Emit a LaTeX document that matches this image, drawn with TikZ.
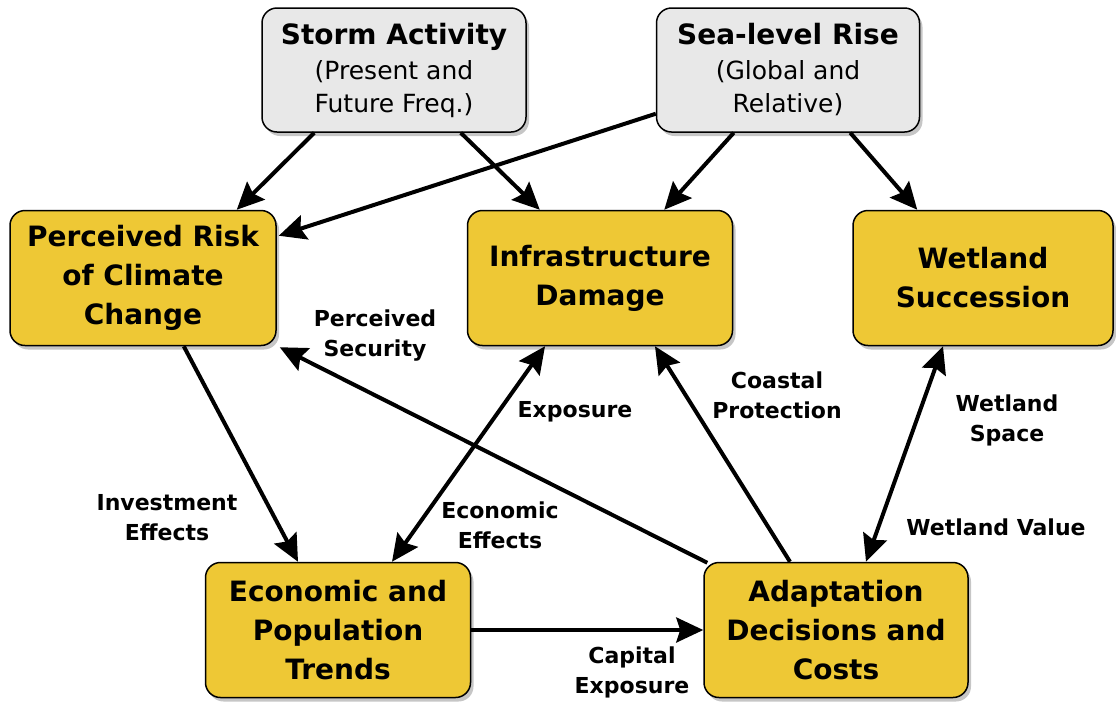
\documentclass[tikz,border=0pt]{standalone}
\usepackage{fontspec}
\setmainfont{DejaVu Sans}
\usetikzlibrary{arrows.meta,shadows}
\definecolor{boxyellow}{HTML}{EEC835}
\definecolor{boxgray}{HTML}{E8E8E8}

\begin{document}
\begin{tikzpicture}[x=1pt,y=-1pt,
	factor/.style={draw=black, line width=1.5pt, rounded corners=15pt, fill=boxyellow,
		align=center, font=\bfseries\fontsize{28}{39}\selectfont, inner sep=0pt,
		drop shadow={shadow xshift=3pt, shadow yshift=-4pt, opacity=0.45}},
	driver/.style={factor, fill=boxgray, font=\fontsize{25}{33}\selectfont},
	link/.style={line width=4pt, -{Stealth[length=27pt,width=25pt,inset=4pt]}},
	twolink/.style={line width=4pt, {Stealth[length=27pt,width=25pt,inset=4pt]}-{Stealth[length=27pt,width=25pt,inset=4pt]}},
	lbl/.style={font=\bfseries\fontsize{22}{30}\selectfont, align=center}]
	\useasboundingbox (0,0) rectangle (1116,702);
	% drivers
	\node[driver, minimum width=264pt, minimum height=124pt] (storm) at (394,70)
		{{\bfseries\fontsize{28}{38}\selectfont Storm Activity}\\[2pt](Present and\\Future Freq.)};
	\node[driver, minimum width=263pt, minimum height=124pt] (sea) at (788,70)
		{{\bfseries\fontsize{28}{38}\selectfont Sea-level Rise}\\[2pt](Global and\\Relative)};
	% factors
	\node[factor, minimum width=266pt, minimum height=135pt] (risk) at (143,278)
		{Perceived Risk\\of Climate\\Change};
	\node[factor, minimum width=265pt, minimum height=135pt] (infra) at (600,278)
		{Infrastructure\\Damage};
	\node[factor, minimum width=260pt, minimum height=135pt] (wet) at (983,278)
		{Wetland\\Succession};
	\node[factor, minimum width=265pt, minimum height=135pt] (econ) at (338,630)
		{Economic and\\Population\\Trends};
	\node[factor, minimum width=264pt, minimum height=135pt] (adapt) at (836,630)
		{Adaptation\\Decisions and\\Costs};
	% links
	\draw[link] ([xshift=53pt]storm.south west) -- ([xshift=-40pt]risk.north east);
	\draw[link] ([xshift=-66pt]storm.south east) -- ([xshift=73pt]infra.north west);
	\draw[link] ([yshift=19pt]sea.south west) -- ([xshift=2pt,yshift=-26pt]risk.north east);
	\draw[link] ([xshift=78pt]sea.south west) -- ([xshift=-69pt]infra.north east);
	\draw[link] ([xshift=-70pt]sea.south east) -- ([xshift=65pt]wet.north west);
	\draw[link] ([xshift=-93pt]risk.south east) -- ([xshift=-40pt]econ.north);
	\draw[link] ([xshift=4pt,yshift=-1pt]adapt.north west) -- ([xshift=3pt,yshift=-1pt]risk.south east);
	\draw[twolink] ([xshift=54pt]econ.north) -- ([xshift=-55pt]infra.south);
	\draw[link] ([xshift=-46pt]adapt.north) -- ([xshift=55pt]infra.south);
	\draw[twolink] ([xshift=30pt]adapt.north) -- ([xshift=-40pt]wet.south);
	\draw[link] (econ.east) -- (adapt.west);
	% labels
	\node[lbl] (l1) at (167,518) {Investment\\Effects};
	\node[lbl] (l2) at (375,336) {Perceived\\Security};
	\node[lbl] (l3) at (575,412) {Exposure};
	\node[lbl] (l4) at (500,525) {Economic\\Effects};
	\node[lbl] (l5) at (777,395) {Coastal\\Protection};
	\node[lbl] (l6) at (1007,420) {Wetland\\Space};
	\node[lbl] (l7) at (996,527) {Wetland Value};
	\node[lbl] (l8) at (632,672) {Capital\\Exposure};
\end{tikzpicture}
\end{document}
